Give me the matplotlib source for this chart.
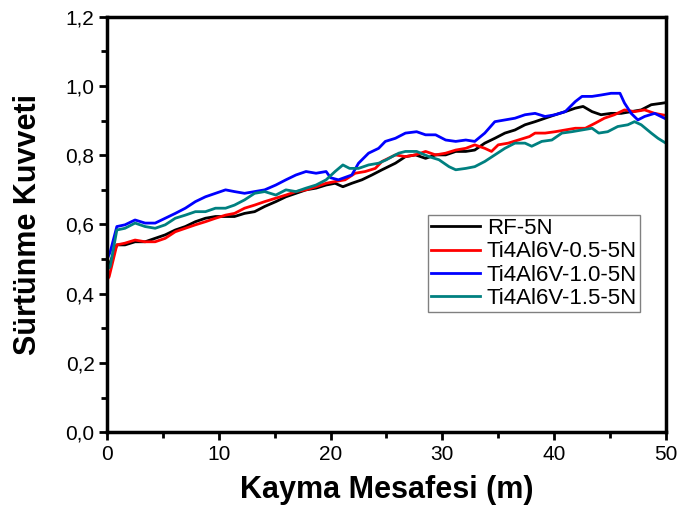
import matplotlib
matplotlib.use('Agg')
import matplotlib.pyplot as plt
from matplotlib.ticker import MultipleLocator

plt.rcParams['font.family'] = ['Liberation Sans', 'DejaVu Sans']

# values
rf_x = [0, 0.27, 0.87, 1.6, 2.5, 3.4, 4.3, 5.2, 6.1, 7.0, 7.9, 8.8, 9.7, 10.6, 11.4, 12.3,
        13.2, 14.1, 15.1, 16.0, 16.9, 17.8, 18.7, 19.6, 20.4, 21.1, 21.9, 22.8, 23.7, 24.6,
        25.8, 26.7, 27.6, 28.5, 29.4, 30.3, 31.2, 32.1, 32.9, 33.8, 34.7, 35.6, 36.5, 37.4,
        38.3, 39.2, 40.1, 41.0, 41.9, 42.6, 43.4, 44.2, 45.1, 46.0, 46.9, 47.8, 48.7, 49.6, 50]
rf_y = [0.47, 0.49, 0.541, 0.541, 0.55, 0.55, 0.56, 0.57, 0.584, 0.594, 0.608, 0.618, 0.623, 0.623, 0.623, 0.632,
        0.637, 0.652, 0.666, 0.68, 0.69, 0.70, 0.705, 0.714, 0.719, 0.709, 0.719, 0.729, 0.743, 0.758,
        0.777, 0.796, 0.801, 0.791, 0.801, 0.801, 0.811, 0.811, 0.815, 0.835, 0.849, 0.864, 0.873, 0.888,
        0.897, 0.907, 0.917, 0.926, 0.936, 0.941, 0.926, 0.917, 0.921, 0.921, 0.926, 0.931, 0.946, 0.95, 0.952]

r05_x = [0, 0.18, 0.87, 1.6, 2.5, 3.4, 4.3, 5.2, 6.1, 7.0, 7.9, 8.8, 9.7, 10.6, 11.4, 12.3,
         13.2, 14.1, 15.1, 16.0, 16.9, 17.8, 18.7, 19.6, 20.4, 21.3, 22.2, 23.1, 24.0, 24.6,
         25.8, 26.7, 27.6, 28.5, 29.4, 30.3, 31.2, 32.1, 32.9, 33.8, 34.4, 35.0, 35.9, 36.8, 37.8,
         38.3, 39.2, 40.1, 41.0, 41.9, 42.8, 43.7, 44.5, 45.4, 46.3, 47.2, 48.1, 49.0, 50]
r05_y = [0.44, 0.449, 0.541, 0.546, 0.555, 0.55, 0.55, 0.56, 0.579, 0.589, 0.599, 0.608, 0.618, 0.627, 0.632, 0.647,
         0.656, 0.666, 0.676, 0.685, 0.695, 0.70, 0.709, 0.719, 0.724, 0.729, 0.748, 0.753, 0.762, 0.782,
         0.801, 0.796, 0.801, 0.811, 0.801, 0.806, 0.815, 0.82, 0.83, 0.82, 0.811, 0.83, 0.835, 0.844, 0.854,
         0.864, 0.864, 0.868, 0.873, 0.878, 0.878, 0.893, 0.907, 0.917, 0.931, 0.926, 0.931, 0.921, 0.915]

r10_x = [0, 0.27, 0.87, 1.6, 2.5, 3.4, 4.3, 5.2, 6.1, 7.0, 7.9, 8.8, 9.7, 10.6, 11.4, 12.3,
         13.2, 14.1, 15.1, 16.0, 16.9, 17.8, 18.7, 19.6, 20.0, 20.7, 21.9, 22.5, 23.4, 24.3, 24.9,
         25.8, 26.7, 27.7, 28.5, 29.4, 30.3, 31.2, 32.1, 32.9, 33.8, 34.7, 35.6, 36.5, 37.4,
         38.3, 39.2, 40.1, 41.0, 41.9, 42.5, 43.4, 44.2, 45.1, 45.9, 46.3, 46.9, 47.5, 48.1, 49.0, 50]
r10_y = [0.50, 0.52, 0.594, 0.599, 0.613, 0.604, 0.604, 0.618, 0.632, 0.647, 0.666, 0.68, 0.69, 0.70, 0.695, 0.69,
         0.695, 0.70, 0.714, 0.729, 0.743, 0.753, 0.748, 0.753, 0.735, 0.729, 0.743, 0.777, 0.806, 0.82, 0.84,
         0.849, 0.864, 0.868, 0.859, 0.859, 0.844, 0.84, 0.844, 0.84, 0.864, 0.897, 0.902, 0.907, 0.917,
         0.921, 0.912, 0.917, 0.926, 0.955, 0.97, 0.97, 0.974, 0.979, 0.979, 0.951, 0.921, 0.902, 0.912, 0.921, 0.905]

r15_x = [0, 0.27, 0.87, 1.6, 2.5, 3.4, 4.3, 5.2, 6.1, 7.0, 7.9, 8.8, 9.7, 10.6, 11.4, 12.3,
         13.2, 14.1, 15.1, 16.0, 16.9, 17.8, 18.7, 19.6, 20.4, 21.1, 21.7, 22.5, 23.4, 24.3, 25.0,
         25.5, 26.1, 26.7, 27.7, 28.8, 29.7, 30.6, 31.2, 32.1, 32.9, 33.8, 34.7, 35.6, 36.5, 37.4,
         38.0, 38.9, 39.8, 40.7, 41.6, 42.5, 43.4, 44.0, 44.8, 45.7, 46.6, 47.2, 47.8, 48.7, 49.3, 50]
r15_y = [0.47, 0.478, 0.584, 0.589, 0.604, 0.594, 0.589, 0.599, 0.618, 0.627, 0.637, 0.637, 0.647, 0.647, 0.656, 0.671,
         0.69, 0.695, 0.685, 0.70, 0.695, 0.705, 0.714, 0.729, 0.753, 0.772, 0.762, 0.762, 0.772, 0.777, 0.787,
         0.796, 0.806, 0.811, 0.811, 0.796, 0.787, 0.767, 0.758, 0.762, 0.767, 0.782, 0.801, 0.82, 0.835, 0.835,
         0.826, 0.84, 0.844, 0.864, 0.868, 0.873, 0.878, 0.864, 0.868, 0.883, 0.888, 0.897, 0.888, 0.864, 0.849, 0.835]

labels = ['RF-5N', 'Ti4Al6V-0.5-5N', 'Ti4Al6V-1.0-5N', 'Ti4Al6V-1.5-5N']
yticks = [0.0, 0.2, 0.4, 0.6, 0.8, 1.0, 1.2]
ytick_labels = ['0,0', '0,2', '0,4', '0,6', '0,8', '1,0', '1,2']
xticks = [0, 10, 20, 30, 40, 50]

fig = plt.figure(figsize=(6.78, 5.09), dpi=100)
ax = fig.add_axes([0.158, 0.151, 0.824, 0.816])

ax.plot(rf_x, rf_y, c='black', lw=2, label=labels[0])
ax.plot(r05_x, r05_y, c='#ff0000', lw=2, label=labels[1])
ax.plot(r10_x, r10_y, c='#0000ff', lw=2, label=labels[2])
ax.plot(r15_x, r15_y, c='#008080', lw=2, label=labels[3])

ax.set_xlim(0, 50)
ax.set_ylim(0, 1.2)
ax.set_xticks(xticks)
ax.set_yticks(yticks)
ax.set_yticklabels(ytick_labels)
ax.xaxis.set_minor_locator(MultipleLocator(5))
ax.yaxis.set_minor_locator(MultipleLocator(0.1))

for s in ax.spines.values():
    s.set_linewidth(2.5)
ax.tick_params(which='major', direction='out', length=6, width=2, labelsize=15, pad=3)
ax.tick_params(which='minor', direction='out', length=4, width=2)

ax.set_xlabel('Kayma Mesafesi (m)', fontsize=22, fontweight='bold', labelpad=8)
ax.set_ylabel('Sürtünme Kuvveti', fontsize=22, fontweight='bold', labelpad=16)

leg = ax.legend(loc='upper left', bbox_to_anchor=(0.574, 0.523), borderaxespad=0,
                fontsize=16, fancybox=False, framealpha=1, edgecolor='gray',
                handlelength=2.2, handletextpad=0.3, labelspacing=0.1, borderpad=0.15)
leg.get_frame().set_linewidth(1)

fig.savefig('out.png', dpi=100)
